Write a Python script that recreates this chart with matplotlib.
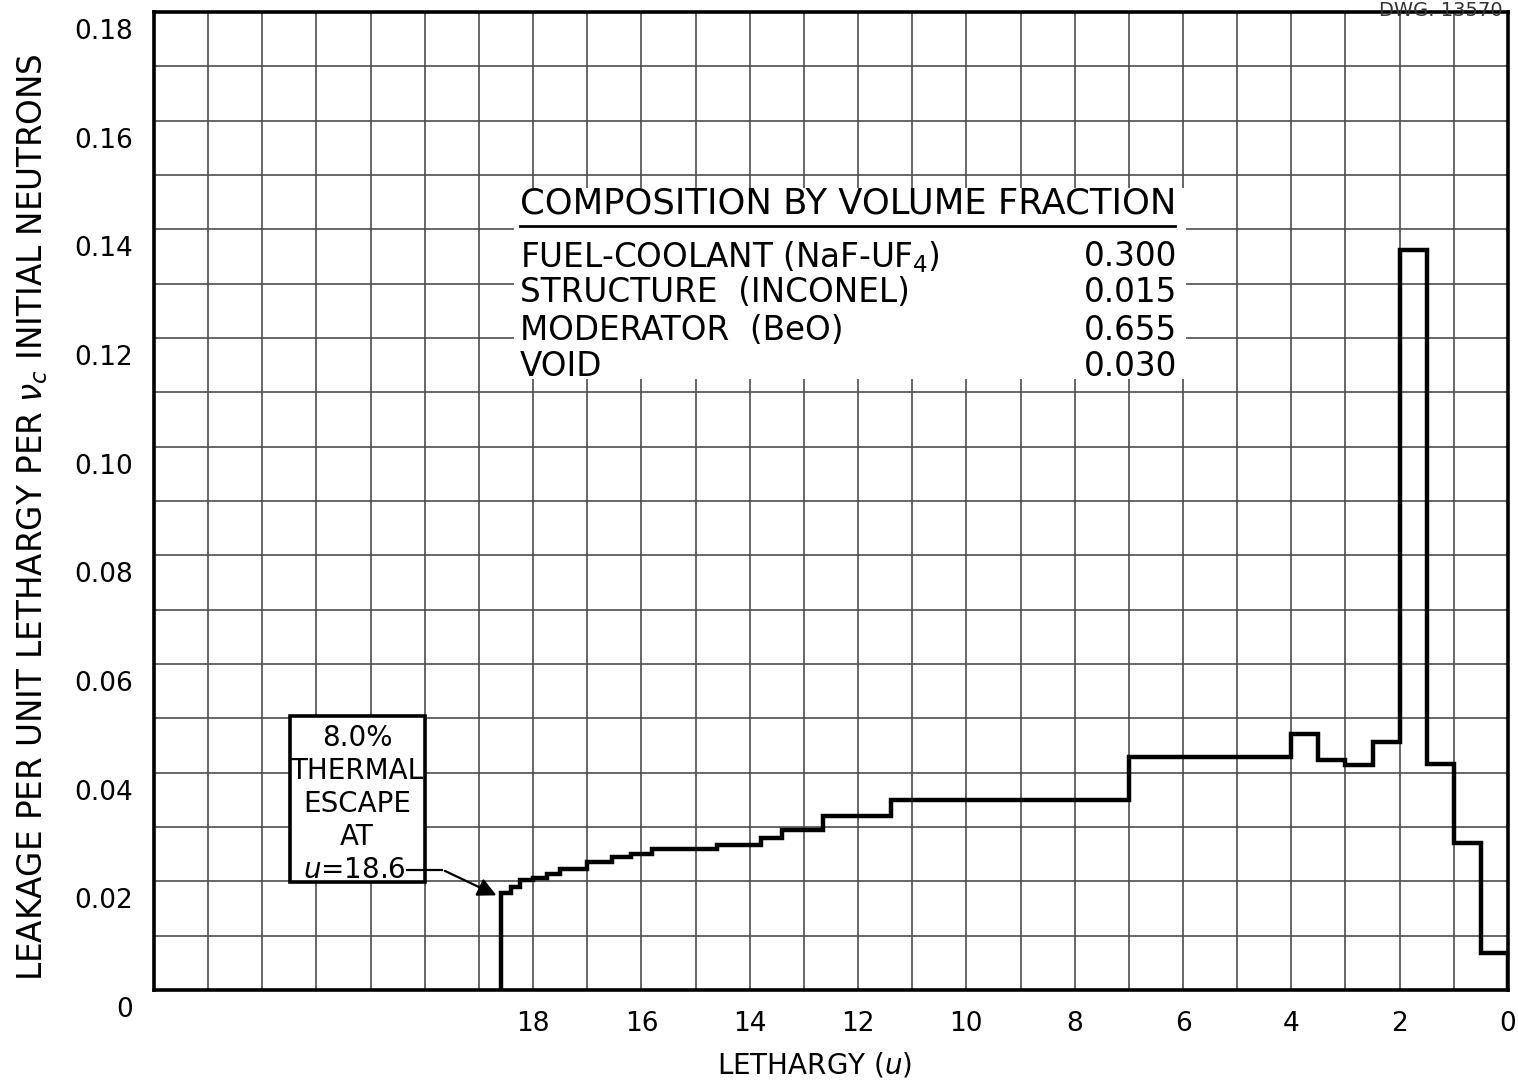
import numpy as np
import matplotlib
matplotlib.use("Agg")
from matplotlib import pyplot as plt
from matplotlib.patches import Rectangle
from matplotlib.transforms import ScaledTranslation

# Bordi dei gruppi di letargia (crescenti) e dispersione per unita' di letargia
edges = [0.0, 0.5, 1.0, 1.5, 2.0, 2.5, 3.0, 3.5, 4.0, 7.0, 11.4, 12.65, 13.4,
         13.8, 14.6, 15.8, 16.2, 16.55, 17.0, 17.5, 17.75, 18.0, 18.25, 18.4, 18.6]
leakage = [0.0068, 0.0271, 0.0416, 0.1362, 0.0457, 0.0414, 0.0424, 0.0471,
           0.0429, 0.0350, 0.0320, 0.0295, 0.0279, 0.0266, 0.0259, 0.0251,
           0.0244, 0.0236, 0.0222, 0.0213, 0.0207, 0.0203, 0.0190, 0.0178]

x_ticks = list(range(0, 26))
x_labels = [str(t) if (t % 2 == 0 and t <= 18) else "" for t in x_ticks]
y_ticks = [i / 100 for i in range(0, 19)]
y_labels = ["0" if i == 0 else ("0.%02d" % i if i % 2 == 0 else "") for i in range(0, 19)]

components = ["FUEL-COOLANT (NaF-UF$_4$)", "STRUCTURE  (INCONEL)", "MODERATOR  (BeO)", "VOID"]
fractions = ["0.300", "0.015", "0.655", "0.030"]

fig = plt.figure(figsize=(15.18, 10.83), dpi=100)
ax = fig.add_axes([0.1014, 0.0859, 0.8920, 0.9030])

ax.stairs(leakage, edges, baseline=0, color="black", lw=3.2, zorder=3)

ax.set_xlim(25, 0)
ax.set_ylim(0, 0.18)
ax.set_xticks(x_ticks)
ax.set_xticklabels(x_labels, fontsize=19)
ax.set_yticks(y_ticks)
ax.set_yticklabels(y_labels, fontsize=19)
ax.tick_params(length=0)
ax.tick_params(axis="x", pad=15)
ax.tick_params(axis="y", pad=15)
ax.grid(True, color="#4d4d4d", lw=1.2)
ax.set_axisbelow(True)
for s in ax.spines.values():
    s.set_linewidth(2.6)

# le etichette y stanno un po' sotto le linee della griglia
for lab in ax.get_yticklabels():
    lab.set_transform(lab.get_transform() + ScaledTranslation(0, -0.17, fig.dpi_scale_trans))

ax.set_xlabel("LETHARGY ($u$)", fontsize=20)
ax.xaxis.set_label_coords(0.488, -0.062)
ax.set_ylabel(r"LEAKAGE PER UNIT LETHARGY PER $\nu_c$ INITIAL NEUTRONS", fontsize=23.5)
ax.yaxis.set_label_coords(-0.077, 0.483)

# tabella della composizione
ax.add_patch(Rectangle((0.266, 0.625), 0.496, 0.195, transform=ax.transAxes,
                       facecolor="white", edgecolor="none", zorder=2))
ax.text(0.270, 0.804, "COMPOSITION BY VOLUME FRACTION", transform=ax.transAxes,
        fontsize=25.5, ha="left", va="center", zorder=4)
ax.plot([0.270, 0.754], [0.781, 0.781], transform=ax.transAxes, color="black", lw=2, zorder=4)
row_y = [0.7495, 0.7127, 0.6748, 0.638]
for name, frac, yy in zip(components, fractions, row_y):
    ax.text(0.270, yy, name, transform=ax.transAxes, fontsize=23.5, ha="left", va="center", zorder=4)
    ax.text(0.756, yy, frac, transform=ax.transAxes, fontsize=23.5, ha="right", va="center", zorder=4)

# riquadro della fuga termica
ax.add_patch(Rectangle((0.1004, 0.1104), 0.0997, 0.1696, transform=ax.transAxes,
                       facecolor="white", edgecolor="black", lw=2.6, zorder=4))
box_lines = ["8.0%", "THERMAL", "ESCAPE", "AT"]
box_y = [0.258, 0.224, 0.190, 0.156]
for t, yy in zip(box_lines, box_y):
    ax.text(0.150, yy, t, transform=ax.transAxes, fontsize=20, ha="center", va="center", zorder=5)
ax.text(0.186, 0.123, "$u$=18.6", transform=ax.transAxes, fontsize=20, ha="right",
        va="center", zorder=5)
ax.plot([0.187, 0.213], [0.123, 0.123], transform=ax.transAxes, color="black", lw=1.6, zorder=5)
ax.annotate("", xy=(18.63, 0.0172), xycoords="data",
            xytext=(0.213, 0.123), textcoords="axes fraction",
            arrowprops=dict(arrowstyle="-|>", color="black", lw=1.6, mutation_scale=28),
            zorder=5)

fig.text(0.949, 0.999, "DWG. 13570", fontsize=14, color="#333333", ha="center", va="top")

fig.savefig("out.png", dpi=100)
